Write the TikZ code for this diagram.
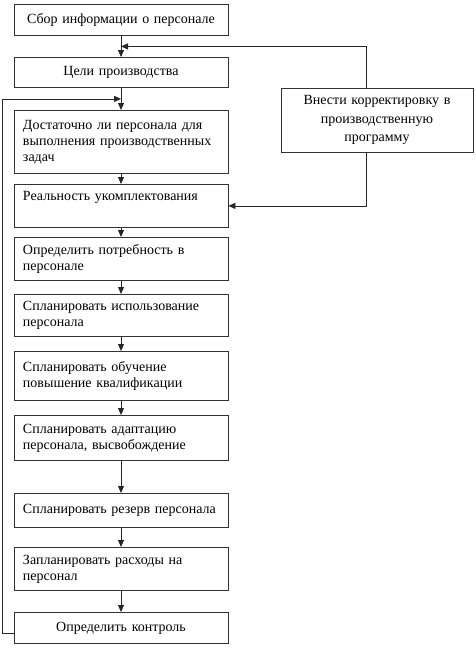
\documentclass[tikz,border=0pt]{standalone}
\usepackage{fontspec}
\setmainfont{Liberation Serif}
\usetikzlibrary{arrows.meta,calc}
\begin{document}
\begin{tikzpicture}[x=1pt,y=-1pt,
  box/.style={draw=black!80, line width=0.8pt, minimum width=214pt, inner xsep=9pt, inner ysep=2pt,
    text width=196pt, anchor=north, font=\fontsize{14}{16}\selectfont},
  lbox/.style={box, align=left},
  cbox/.style={box, align=center},
  rbox/.style={draw=black!80, line width=0.8pt, minimum width=192pt, minimum height=64pt, inner xsep=6pt,
    text width=180pt, align=center, anchor=north, font=\fontsize{14}{18.5}\selectfont},
  arr/.style={draw=black!85, line width=0.8pt, -{Triangle[length=7pt,width=6pt]}}]
\useasboundingbox (0,0) rectangle (476,649);
\node[cbox, minimum height=31pt] (b1) at (121,4) {Сбор информации о персонале};
\node[cbox, minimum height=30pt] (b2) at (121,57) {Цели производства};
\node[lbox, minimum height=63pt] (b3) at (121,110) {Достаточно ли персонала для\\выполнения производственных\\задач};
\node[lbox, minimum height=43pt] (b4) at (121,184) {Реальность укомплектования\\\strut};
\node[lbox, minimum height=43pt] (b5) at (121,237) {Определить потребность в\\персонале};
\node[lbox, minimum height=42pt] (b6) at (121,294) {Спланировать использование\\персонала};
\node[lbox, minimum height=49pt] (b7) at (121,351) {Спланировать обучение\\повышение квалификации};
\node[lbox, minimum height=45pt] (b8) at (121,415) {Спланировать адаптацию\\персонала, высвобождение};
\node[lbox, minimum height=34pt] (b9) at (121,493) {Спланировать резерв персонала};
\node[lbox, minimum height=43pt] (b10) at (121,547) {Запланировать расходы на\\персонал};
\node[cbox, minimum height=31pt] (b11) at (121,612) {Определить контроль};
\node[rbox] (r) at (377,88) {Внести корректировку в\\производственную\\программу};
\draw[arr] (b1) -- (b2);
\draw[arr] (b2) -- (b3);
\draw[arr] (b3) -- (b4);
\draw[arr] (b4) -- (b5);
\draw[arr] (b5) -- (b6);
\draw[arr] (b6) -- (b7);
\draw[arr] (b7) -- (b8);
\draw[arr] (b8) -- (b9);
\draw[arr] (b9) -- (b10);
\draw[arr] (b10) -- (b11);
\draw[arr] ([xshift=-11pt]r.north) |- ($(b1.south)!.5!(b2.north)$);
\draw[arr] ([xshift=-11pt]r.south) |- (b4.east);
\draw[arr] ([yshift=-5pt]b11.west) -- ++(-11,0) |- ($(b2.south)!.5!(b3.north)$);
\end{tikzpicture}
\end{document}
